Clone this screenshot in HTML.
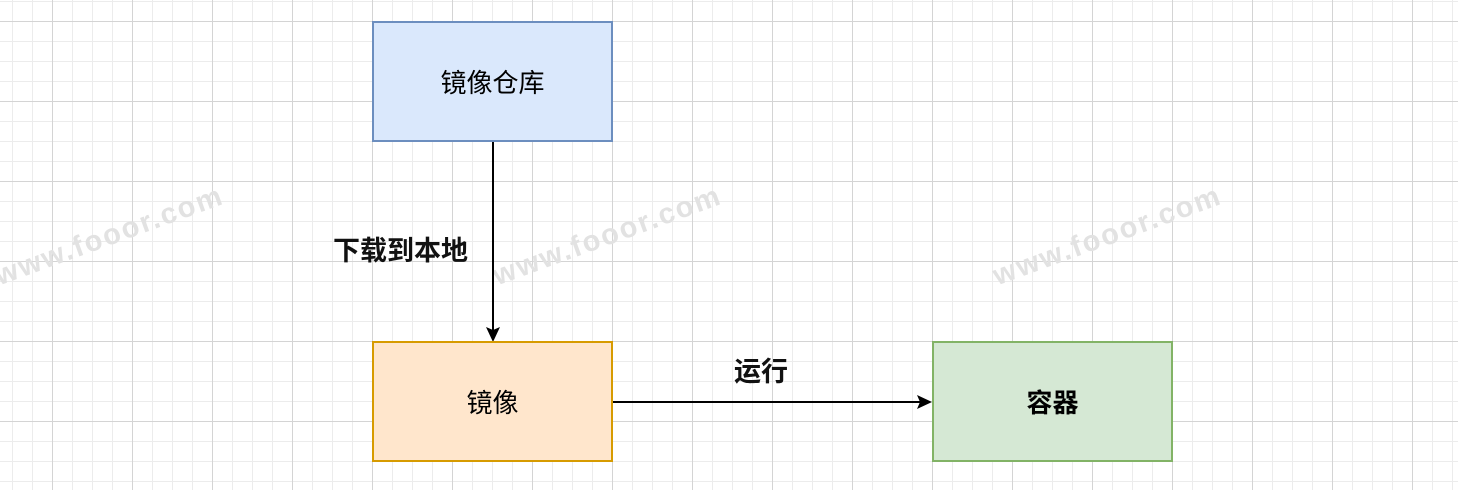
<!DOCTYPE html>
<html><head><meta charset="utf-8"><style>
html,body{margin:0;padding:0}
body{width:1458px;height:490px;position:relative;overflow:hidden;background:#fff;
background-image:
linear-gradient(to right,#d4d4d4 1px,transparent 1px),
linear-gradient(to bottom,#d4d4d4 1px,transparent 1px),
linear-gradient(to right,#ececec 1px,transparent 1px),
linear-gradient(to bottom,#ececec 1px,transparent 1px);
background-size:80px 80px,80px 80px,20px 20px,20px 20px;
background-position:52px 21px,52px 21px,12px 1px,12px 1px;
font-family:"Liberation Sans","Noto Sans CJK SC",sans-serif}
.wm{position:absolute;font-size:29px;font-weight:bold;color:#e2e2e2;letter-spacing:2px;transform:rotate(-20deg);transform-origin:left bottom;white-space:nowrap}
.box{position:absolute;box-sizing:border-box;width:241px;height:121px;display:flex;align-items:center;justify-content:center;font-size:26px;color:#000;font-weight:normal}
.lbl{position:absolute;font-size:27px;font-weight:bold;color:#111;line-height:1}
</style></head><body>
<div class="wm" style="left:2px;top:260px">www.fooor.com</div>
<div class="wm" style="left:500px;top:260px">www.fooor.com</div>
<div class="wm" style="left:1000px;top:260px">www.fooor.com</div>
<svg width="1458" height="490" style="position:absolute;left:0;top:0">
<line x1="493" y1="142" x2="493" y2="330" stroke="#000" stroke-width="2"/>
<polygon points="486,327 493,342 500,327 493,330" fill="#000"/>
<line x1="613" y1="402" x2="921" y2="402" stroke="#000" stroke-width="2"/>
<polygon points="917,395 932,402 917,409 920,402" fill="#000"/>
</svg>
<div class="box" style="left:372px;top:21px;background:#dae8fc;border:2px solid #6c8ebf">镜像仓库</div>
<div class="box" style="left:372px;top:341px;background:#ffe6cc;border:2px solid #d79b00">镜像</div>
<div class="box" style="left:932px;top:341px;background:#d5e8d4;border:2px solid #82b366;font-weight:bold">容器</div>
<div class="lbl" style="left:333px;top:238px">下载到本地</div>
<div class="lbl" style="left:734px;top:359px">运行</div>
</body></html>
